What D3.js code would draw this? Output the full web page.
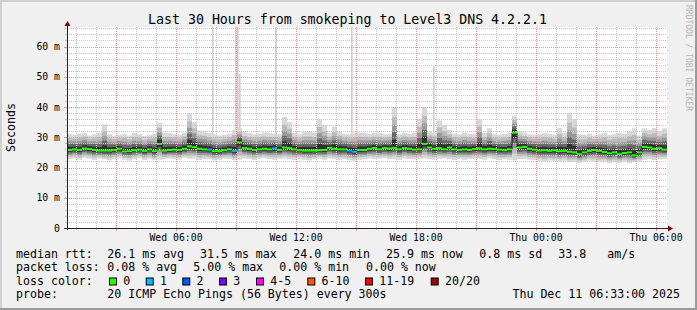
<!DOCTYPE html>
<html><head><meta charset="utf-8">
<script src="https://cdn.jsdelivr.net/npm/d3@7"></script>
<style>html,body{margin:0;padding:0;background:#f0f0f0;} svg{display:block;}</style>
</head><body><svg id="c" width="697" height="310"></svg>
<script>
// ---------- DATA ----------
const titleText = "Last 30 Hours from smokeping to Level3 DNS 4.2.2.1";
const startTime = "2025-12-10T00:33:00Z";
const endTime = "2025-12-11T06:33:00Z";
const stepMinutes = 15;
// median RTT (ms) per 15-minute step
const median = [
25.8,26.0,25.8,26.3,26.1,25.8,25.6,25.6,25.6,25.8,26.2,25.3,25.4,25.7,25.9,25.5,26.0,25.4,27.8,25.6,
25.8,25.9,25.8,26.2,27.0,26.7,26.2,26.0,25.9,25.4,25.4,25.7,26.0,25.5,28.3,26.4,26.2,25.8,26.0,26.2,
26.0,26.3,25.8,26.6,26.4,26.0,25.7,25.6,25.6,25.6,25.7,25.8,26.5,26.2,26.0,26.0,25.6,25.2,25.8,25.8,
26.2,26.4,26.0,26.4,26.3,26.5,26.0,26.4,26.2,25.9,26.0,27.8,26.6,26.2,26.4,26.0,26.6,26.0,25.8,26.0,
25.8,26.1,26.3,26.0,26.2,26.1,25.9,25.7,26.0,31.5,26.6,26.8,26.2,25.9,25.6,25.7,25.5,25.7,25.4,25.5,
25.2,25.0,24.4,25.0,25.5,25.8,25.5,25.1,24.7,25.0,24.4,24.8,25.0,24.0,25.0,26.8,26.6,26.2,26.4,25.9];
// lowest ping per step (ms)
const pingLow = [
22.8,23.0,22.6,23.2,22.9,22.5,23.0,22.7,22.4,22.8,23.0,22.6,22.3,22.8,23.1,22.5,22.9,22.4,22.6,22.8,
23.0,22.8,22.6,23.2,22.9,23.0,22.5,22.8,22.7,22.3,22.6,22.9,22.8,22.4,22.6,23.0,22.8,22.5,22.9,23.1,
22.8,22.6,22.9,23.0,22.7,22.5,22.8,22.6,22.3,22.7,22.9,22.6,23.0,22.8,22.5,22.7,22.4,22.2,22.6,22.8,
23.0,22.8,22.9,23.1,22.7,22.9,22.6,23.0,22.8,22.7,22.9,23.0,22.8,22.6,22.9,23.0,22.7,22.5,22.8,22.6,
22.7,22.9,22.8,22.6,23.0,22.8,22.5,22.7,22.6,22.3,22.8,22.9,22.6,22.4,22.2,22.0,22.3,22.1,21.9,22.2,
21.8,22.0,21.6,21.9,22.2,22.0,21.7,21.9,21.5,21.8,21.6,21.9,21.4,21.7,22.0,22.6,22.8,22.5,22.7,22.9];
// highest ping per step (ms)
const pingHigh = [
31.0,30.8,31.2,31.5,30.6,31.0,31.4,34.2,31.0,30.5,30.8,31.2,30.6,31.4,31.0,30.4,30.8,31.2,34.8,31.5,
31.4,31.0,30.8,31.6,38.0,35.0,32.2,32.0,31.4,31.0,30.6,30.8,31.2,32.5,33.0,31.8,31.4,31.0,31.2,31.6,
31.5,31.2,31.0,36.7,35.0,31.6,31.0,31.8,31.8,31.6,36.0,34.0,31.4,33.5,32.0,31.2,31.0,31.4,31.6,31.5,
31.2,31.4,31.5,31.0,31.2,40.0,31.0,31.5,31.2,31.5,36.0,40.0,32.0,31.6,35.5,34.0,32.4,31.2,31.0,31.6,
31.2,31.0,36.0,31.4,33.0,31.0,30.8,31.2,31.5,37.0,32.0,31.6,31.0,30.8,31.0,31.4,31.2,30.8,33.0,31.4,
38.0,36.0,31.0,30.8,31.2,30.6,31.0,31.5,30.8,31.0,31.4,31.2,32.0,33.0,30.6,33.0,32.5,33.0,31.8,33.0];
// packets lost (of 20) per step
const lossCount = [
0,0,0,0,0,0,0,0,0,0,0,0,0,0,0,0,0,0,0,0,
0,0,0,0,0,0,0,0,1,0,0,0,0,1,0,0,0,0,0,0,
0,1,0,0,0,0,0,0,0,0,0,0,0,0,0,0,1,1,0,0,
0,0,0,0,0,0,0,0,0,0,0,0,0,0,0,0,0,0,0,0,
0,0,0,0,0,0,0,0,0,0,0,0,0,0,0,0,0,0,0,0,
0,0,0,0,0,0,0,0,0,0,0,0,0,0,0,0,0,0,0,0];
// isolated tall outliers (5-minute samples)
const spikeTimes = ["2025-12-10T07:48:00Z","2025-12-10T08:57:00Z","2025-12-10T09:03:00Z","2025-12-10T09:09:00Z","2025-12-10T10:57:00Z","2025-12-10T14:45:00Z","2025-12-10T18:51:00Z"];
const spikeValues = [70, 70, 70, 51, 70, 70, 53.5];

const yTickValues = [0,10,20,30,40,50,60];
const yTickLabels = ["0","10 m","20 m","30 m","40 m","50 m","60 m"];
const yLabel = "Seconds";
const watermark = "RRDTOOL / TOBI OETIKER";

const legendHeads = ["median rtt:","packet loss:","loss color:","probe:"];
const rttLabels = ["26.1 ms avg","31.5 ms max","24.0 ms min","25.9 ms now","0.8 ms sd","33.8","am/s"];
const lossLabels = ["0.08 % avg","5.00 % max","0.00 % min","0.00 % now"];
const lossClassLabels = ["0","1","2","3","4-5","6-10","11-19","20/20"];
const lossClassColors = ["#26ff00","#00b8ff","#0059ff","#7e00ff","#ff00ff","#ff5500","#ff0000","#a10000"];
const probeText = "20 ICMP Echo Pings (56 Bytes) every 300s";
const dateText = "Thu Dec 11 06:33:00 2025";

// ---------- LAYOUT ----------
const W = 697, H = 310;
const L = 67, R = 667, T = 27, B = 228;
const FONT = "DejaVu Sans Mono";
const rttX = [107.3,200,293.3,386,479.3,558.3,607.3];
const lossX = [107.3,193.3,279.3,366];
const boxX = [109,145.7,182.3,219,256,307.3,365,430.7];
const lineY = [257.5,271,284.5,298];

const svg = d3.select("#c");
svg.append("rect").attr("width",W).attr("height",H).attr("fill","#f0f0f0");
// frame shades
svg.append("path").attr("d",`M0,0H${W}V2H2V${H}H0Z`).attr("fill","#cfcfcf");
svg.append("path").attr("d",`M${W},0V${H}H0V${H-2}H${W-2}V0Z`).attr("fill","#9a9a9a");

const t0 = new Date(startTime), t1 = new Date(endTime);
const x = d3.scaleUtc().domain([t0,t1]).range([L,R]);
const y = d3.scaleLinear().domain([0,66.45]).range([B,T]);

svg.append("rect").attr("x",L).attr("y",T).attr("width",R-L).attr("height",B-T).attr("fill","#ffffff");
svg.append("clipPath").attr("id","pc").append("rect").attr("x",L).attr("y",T).attr("width",R-L).attr("height",B-T);
const plot = svg.append("g").attr("clip-path","url(#pc)");

const stepT = i => d3.utcMinute.offset(t0, i*stepMinutes);
const idx = d3.range(median.length+1);
const vAt = (arr,i) => arr[Math.min(i, arr.length-1)];

// spikes
spikeTimes.forEach((s,k)=>{
  const ts = new Date(s);
  const xa = x(ts), xb = x(d3.utcMinute.offset(ts,5));
  plot.append("rect").attr("x",xa).attr("width",Math.max(1.6,xb-xa))
    .attr("y",y(spikeValues[k])).attr("height",y(25)-y(spikeValues[k]))
    .attr("fill","#d0d0d0");
});

// smoke bands
const bands = [[1.0,"#d8d8d8"],[0.75,"#bababa"],[0.55,"#989898"],[0.38,"#686868"],[0.2,"#303030"]];
bands.forEach(([f,col])=>{
  const area = d3.area().curve(d3.curveStepAfter)
    .x(i=>x(stepT(i)))
    .y0(i=>{const m=vAt(median,i);return y(m - f*(m - vAt(pingLow,i)));})
    .y1(i=>{const m=vAt(median,i);return y(m + f*(vAt(pingHigh,i) - m));});
  plot.append("path").attr("d",area(idx)).attr("fill",col);
});

// grid
const hours = d3.utcHour.every(1).range(t0,t1);
const minorV = hours.filter(d=>d.getUTCHours()%3!==0);
const majorV = hours.filter(d=>d.getUTCHours()%3===0);
const minorH = d3.range(2,67,2).filter(v=>v%10!==0);
const majorH = d3.range(10,67,10);
const g = plot.append("g").attr("shape-rendering","crispEdges");
minorV.forEach(d=>{const xx=Math.round(x(d))+0.5;
  g.append("line").attr("x1",xx).attr("x2",xx).attr("y1",T).attr("y2",B).attr("stroke","#c8c8c8").attr("stroke-dasharray","1,1");});
minorH.forEach(v=>{const yy=Math.round(y(v))+0.5;
  g.append("line").attr("x1",L).attr("x2",R).attr("y1",yy).attr("y2",yy).attr("stroke","#c8c8c8").attr("stroke-dasharray","1,1");});
majorV.forEach(d=>{const xx=Math.round(x(d))+0.5;
  g.append("line").attr("x1",xx).attr("x2",xx).attr("y1",T).attr("y2",B).attr("stroke","#f09090").attr("stroke-dasharray","1,1");});
majorH.forEach(v=>{const yy=Math.round(y(v))+0.5;
  g.append("line").attr("x1",L).attr("x2",R).attr("y1",yy).attr("y2",yy).attr("stroke","#f09090").attr("stroke-dasharray","1,1");});

// median line
const medLine = d3.line().curve(d3.curveStepAfter).x(i=>x(stepT(i))).y(i=>y(vAt(median,i)));
plot.append("path").attr("d",medLine(idx)).attr("fill","none").attr("stroke","#1a1a1a").attr("stroke-width",1);
median.forEach((v,i)=>{
  plot.append("line").attr("x1",x(stepT(i))).attr("x2",x(stepT(i+1)))
    .attr("y1",y(v)).attr("y2",y(v))
    .attr("stroke",lossClassColors[Math.min(lossCount[i],7)]).attr("stroke-width",2);
});

// axes
const ax = svg.append("g").attr("shape-rendering","crispEdges");
hours.forEach(d=>{const xx=Math.round(x(d))+0.5; const maj=d.getUTCHours()%3===0;
  ax.append("line").attr("x1",xx).attr("x2",xx).attr("y1",B).attr("y2",B+(maj?3:2)).attr("stroke",maj?"#f09090":"#c8c8c8");});
d3.range(2,67,2).forEach(v=>{const yy=Math.round(y(v))+0.5; const maj=v%10===0;
  ax.append("line").attr("x1",L-(maj?3:2)).attr("x2",L).attr("y1",yy).attr("y2",yy).attr("stroke",maj?"#f09090":"#c8c8c8");});
ax.append("line").attr("x1",L+0.5).attr("x2",L+0.5).attr("y1",B+2).attr("y2",T-3).attr("stroke","#222");
ax.append("line").attr("x1",L-3).attr("x2",R+4).attr("y1",B+0.5).attr("y2",B+0.5).attr("stroke","#222");
svg.append("path").attr("d",`M${L-2.5},${T-1}L${L+0.5},${T-6}L${L+3.5},${T-1}Z`).attr("fill","#7f0000");
svg.append("path").attr("d",`M${R+1},${B-2.5}L${R+6},${B+0.5}L${R+1},${B+3.5}Z`).attr("fill","#7f0000");

// tick labels
const xLabT = hours.filter(d=>d.getUTCHours()%6===0);
const fmt = d3.utcFormat("%a %H:%M");
xLabT.forEach(d=>svg.append("text").attr("x",x(d)).attr("y",240.5).attr("text-anchor","middle")
  .attr("font-family",FONT).attr("font-size",9.8).attr("fill","#000").text(fmt(d)));
yTickValues.forEach((v,k)=>svg.append("text").attr("x",60).attr("y",y(v)+3.6).attr("text-anchor","end")
  .attr("font-family",FONT).attr("font-size",9.8).attr("fill","#000").text(yTickLabels[k]));

// title & labels
svg.append("text").attr("x",347.5).attr("y",24).attr("text-anchor","middle").attr("font-family",FONT)
  .attr("font-size",13.25).attr("fill","#000").text(titleText);
svg.append("text").attr("transform","translate(15,127.5) rotate(-90)").attr("text-anchor","middle")
  .attr("font-family",FONT).attr("font-size",11.6).attr("fill","#000").text(yLabel);
svg.append("text").attr("transform","translate(685.5,5) rotate(90)").attr("text-anchor","start")
  .attr("font-family",FONT).attr("font-size",8).attr("fill","#b4b4b4").text(watermark);

// legend
const lt = (s,xx,yy,anchor)=>svg.append("text").attr("x",xx).attr("y",yy).attr("text-anchor",anchor||"start")
  .attr("font-family",FONT).attr("font-size",11.6).attr("fill","#000").attr("xml:space","preserve").text(s);
legendHeads.forEach((s,k)=>lt(s,16,lineY[k]));
rttLabels.forEach((s,k)=>lt(s,rttX[k],lineY[0]));
lossLabels.forEach((s,k)=>lt(s,lossX[k],lineY[1]));
lossClassLabels.forEach((s,k)=>{
  svg.append("rect").attr("x",boxX[k]+0.5).attr("y",lineY[2]-6.5).attr("width",7).attr("height",7)
    .attr("fill",lossClassColors[k]).attr("stroke","#000").attr("stroke-width",1);
  lt(s,boxX[k]+14.3,lineY[2]);
});
lt(probeText,107.3,lineY[3]);
lt(dateText,680,lineY[3],"end");
</script></body></html>
